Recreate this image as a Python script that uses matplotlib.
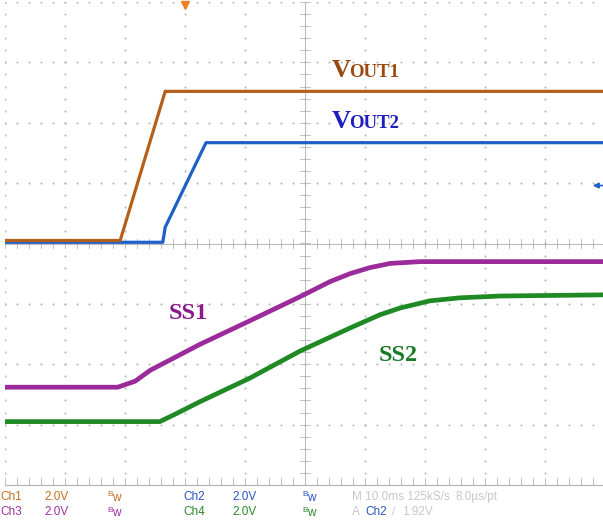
import numpy as np
import matplotlib.pyplot as plt

# scope settings: 10 ms/div horizontally, traces in divisions vertically
t_vout1 = [-51, -30.8, -23.3, 50]
v_vout1 = [0.05, 0.05, 2.52, 2.52]

t_vout2 = [-51, -23.7, -23.3, -16.5, 50]
v_vout2 = [0.02, 0.02, 0.27, 1.67, 1.67]

t_ss1 = [-51, -31.2, -28.3, -25.8, -17.5, -9.2, -0.8, 4.2, 7.5, 10.8, 14.2, 19.2, 50]
v_ss1 = [-2.38, -2.38, -2.28, -2.10, -1.67, -1.28, -0.88, -0.63, -0.50, -0.40, -0.33, -0.30, -0.30]

t_ss2 = [-51, -24.2, -21.7, -17.5, -9.2, -0.8, 7.5, 12.5, 15.8, 20.8, 25.8, 32.5, 50]
v_ss2 = [-2.95, -2.95, -2.83, -2.62, -2.23, -1.78, -1.40, -1.18, -1.07, -0.95, -0.90, -0.87, -0.85]

trig_time = -20
trig_level = 0.96

c_vout1 = "#b5601a"
c_vout2 = "#1f5fc8"
c_ss1 = "#9b2a9b"
c_ss2 = "#1f8a24"

W, H = 603, 520
fig = plt.figure(figsize=(W / 100, H / 100), dpi=100)
ax = fig.add_axes([5 / W, 35 / H, 600 / W, 483 / H])
ax.set_xlim(-50, 50)
ax.set_ylim(-4, 4)
ax.axis("off")

# graticule: dotted major lines, solid centre lines with minor ticks
minor_y = np.arange(-4, 4.01, 0.2)
minor_x = np.arange(-50, 50.01, 2)
dot = dict(s=2.5, color="#bdbdbd", zorder=1, linewidths=0)
for gx in range(-50, 51, 10):
    ax.scatter(np.full_like(minor_y, gx), minor_y, **dot)
for gy in range(-4, 5):
    ax.scatter(minor_x, np.full_like(minor_x, gy), **dot)
ax.axhline(0, color="#b8b8b8", lw=0.7, zorder=1)
ax.axvline(0, color="#b8b8b8", lw=0.7, zorder=1)
ax.axhline(-4, color="#b8b8b8", lw=0.9, zorder=1, clip_on=False)
for mx in minor_x:
    ax.plot([mx, mx], [-0.07, 0.07], color="#b8b8b8", lw=0.6, zorder=1)
    ax.plot([mx, mx], [-4, -3.88], color="#b8b8b8", lw=0.6, zorder=1)
for my in minor_y:
    ax.plot([-0.9, 0.9], [my, my], color="#b8b8b8", lw=0.6, zorder=1)

# traces
ax.plot(t_vout2, v_vout2, color=c_vout2, lw=2.3, zorder=3)
ax.plot(t_vout1, v_vout1, color=c_vout1, lw=2.3, zorder=4)
ax.plot(t_ss2, v_ss2, color=c_ss2, lw=3.4, zorder=3)
ax.plot(t_ss1, v_ss1, color=c_ss1, lw=3.4, zorder=3)

# trigger markers
ax.plot([trig_time], [3.95], marker="v", ms=6, color="#f08020", clip_on=False, zorder=5)
ax.annotate("", xy=(47.5, trig_level), xytext=(51, trig_level),
            arrowprops=dict(arrowstyle="-|>", color=c_vout2, lw=1.2, mutation_scale=8),
            annotation_clip=False)

# trace labels
serif = dict(family="Liberation Serif", weight="bold")
ax.text(4.5, 2.75, "V", color="#9a4a10", fontsize=19, ha="left", va="baseline", **serif)
ax.text(7.3, 2.75, "OUT1", color="#9a4a10", fontsize=13.5, ha="left", va="baseline", **serif)
ax.text(4.5, 1.91, "V", color="#1f1fc0", fontsize=19, ha="left", va="baseline", **serif)
ax.text(7.3, 1.91, "OUT2", color="#1f1fc0", fontsize=13.5, ha="left", va="baseline", **serif)
ax.text(-22.7, -1.25, "SS1", color="#8b1a8b", fontsize=17.5, ha="left", va="baseline", **serif)
ax.text(12.3, -1.95, "SS2", color="#1a7a2a", fontsize=17.5, ha="left", va="baseline", **serif)

# status bar at the bottom
def status(px, py, s, color, size=8.5):
    fig.text(px / W, 1 - py / H, s, color=color, fontsize=size,
             ha="left", va="center", family="Liberation Sans")

gray = "#c8c8c8"
row1 = [(0, "Ch1", "#c07020"), (44, "2.0V", "#c07020"), (183, "Ch2", "#2a55c0"),
        (232, "2.0V", "#2a55c0"), (352, "M 10.0ms 125kS/s", gray), (455, "8.0µs/pt", gray)]
row2 = [(0, "Ch3", "#a030a0"), (44, "2.0V", "#a030a0"), (183, "Ch4", "#2a8a2a"),
        (232, "2.0V", "#2a8a2a"), (352, "A", gray), (365, "Ch2", "#2a55c0"),
        (392, "/", gray), (402, "1.92V", gray)]
for px, s, c in row1:
    status(px, 497, s, c)
for px, s, c in row2:
    status(px, 512, s, c)
for py, c1, c2 in [(497, "#c07020", "#2a55c0"), (512, "#a030a0", "#2a8a2a")]:
    for px, c in [(107, c1), (302, c2)]:
        status(px, py - 2, "B", c, size=6)
        status(px + 5, py + 1, "w", c, size=8.5)

fig.savefig("out.png", dpi=100, facecolor="white")
